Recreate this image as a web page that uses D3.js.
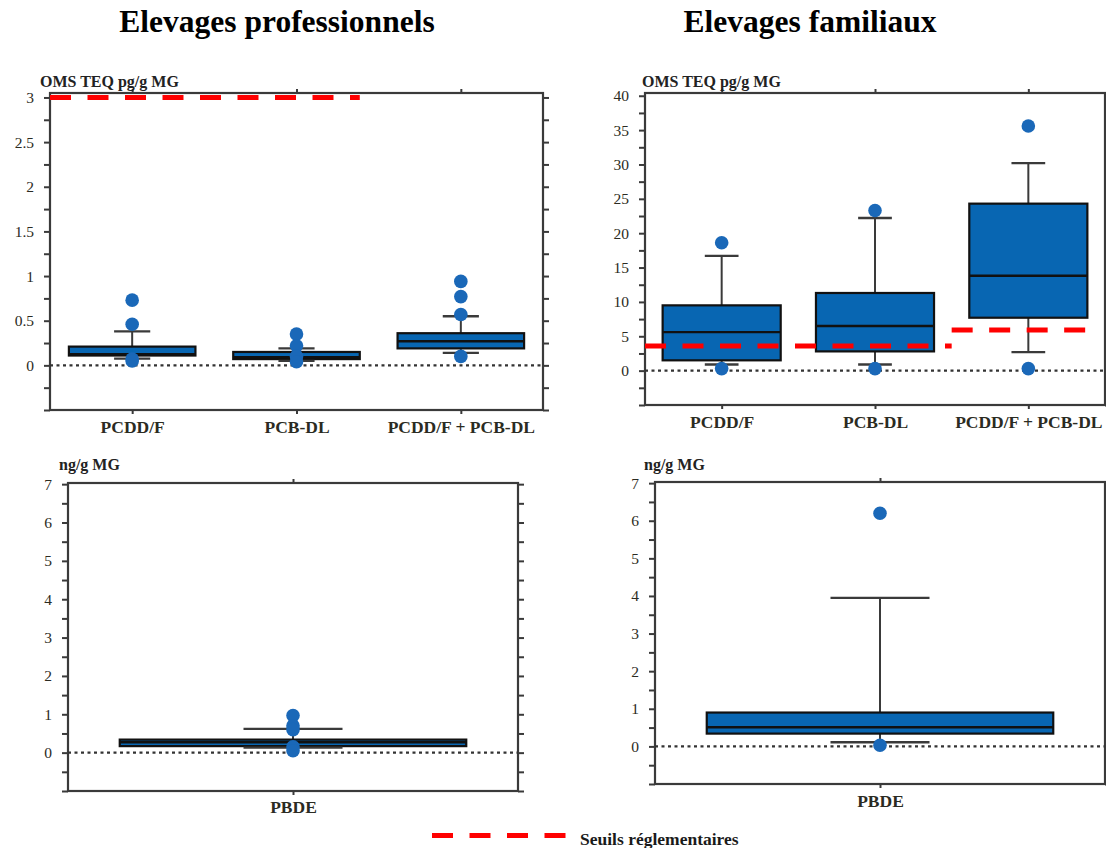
<!DOCTYPE html>
<html>
<head>
<meta charset="utf-8">
<script src="https://cdn.jsdelivr.net/npm/d3@7"></script>
<style>
  body { margin: 0; background: #fff; }
  svg { display: block; }
</style>
</head>
<body>
<svg width="1106" height="848"></svg>
<script>
'use strict';

// categories
var topCategories = ['PCDD/F', 'PCB-DL', 'PCDD/F + PCB-DL'];
var bottomCategories = ['PBDE'];

// Elevages professionnels, OMS TEQ pg/g MG
var proLow = [0.075, 0.05, 0.14];
var proQ1 = [0.11, 0.07, 0.19];
var proMedian = [0.125, 0.09, 0.27];
var proQ3 = [0.21, 0.15, 0.36];
var proHigh = [0.38, 0.19, 0.55];
var proOutliers = [[0.73, 0.46, 0.07, 0.05], [0.35, 0.22, 0.1, 0.04], [0.94, 0.77, 0.57, 0.1]];
var proThresholds = [{ value: 3, from: 0, to: 1 }];

// Elevages familiaux, OMS TEQ pg/g MG
var famLow = [0.9, 0.9, 2.7];
var famQ1 = [1.5, 2.8, 7.7];
var famMedian = [5.6, 6.5, 13.8];
var famQ3 = [9.5, 11.3, 24.3];
var famHigh = [16.7, 22.2, 30.2];
var famOutliers = [[18.6, 0.3], [23.3, 0.3], [35.6, 0.3]];
var famThresholds = [{ value: 3.6, from: 0, to: 1 }, { value: 5.9, from: 2, to: 2 }];

// PBDE, ng/g MG
var pbdeProLow = [0.13], pbdeProQ1 = [0.17], pbdeProMedian = [0.27], pbdeProQ3 = [0.34], pbdeProHigh = [0.62];
var pbdeProOutliers = [[0.97, 0.7, 0.6, 0.15, 0.05]];
var pbdeFamLow = [0.11], pbdeFamQ1 = [0.34], pbdeFamMedian = [0.51], pbdeFamQ3 = [0.9], pbdeFamHigh = [3.95];
var pbdeFamOutliers = [[6.2, 0.03]];

// tick labels
var teqProTicks = [0, 0.5, 1, 1.5, 2, 2.5, 3];
var teqFamTicks = [0, 5, 10, 15, 20, 25, 30, 35, 40];
var pbdeTicks = [0, 1, 2, 3, 4, 5, 6, 7];

var titles = ['Elevages professionnels', 'Elevages familiaux'];
var legendLabel = 'Seuils réglementaires';

var BLUE = '#0866b2';
var DOT = '#1a68b8';
var FRAME = '#3a3a3a';
var RED = '#ff0000';
var SERIF = '"Liberation Serif", "Times New Roman", serif';

var svg = d3.select('svg');

function buildStats(cats, low, q1, med, q3, high, outl) {
    return cats.map(function(c, i) {
        return { cat: c, low: low[i], q1: q1[i], median: med[i], q3: q3[i], high: high[i], outliers: outl[i] };
    });
}

var panels = [
    {
        frame: { x0: 50, x1: 543, y0: 93, y1: 410 },
        yDomain: [-0.5, 3.05], minorStep: 0.25, labels: teqProTicks,
        unit: 'OMS TEQ pg/g MG', unitPos: [40, 87], labelPad: 7,
        categories: topCategories,
        stats: buildStats(topCategories, proLow, proQ1, proMedian, proQ3, proHigh, proOutliers),
        thresholds: proThresholds, thresholdEnds: ['box']
    },
    {
        frame: { x0: 645, x1: 1105, y0: 93, y1: 405 },
        yDomain: [-5, 40.4], minorStep: 2.5, labels: teqFamTicks,
        unit: 'OMS TEQ pg/g MG', unitPos: [642, 87], labelPad: 7,
        categories: topCategories,
        stats: buildStats(topCategories, famLow, famQ1, famMedian, famQ3, famHigh, famOutliers),
        thresholds: famThresholds, thresholdEnds: ['mid', 'box']
    },
    {
        frame: { x0: 68, x1: 518, y0: 483, y1: 791 },
        yDomain: [-1, 7.03], minorStep: 0.5, labels: pbdeTicks,
        unit: 'ng/g MG', unitPos: [59, 470], labelPad: 6,
        categories: bottomCategories,
        stats: buildStats(bottomCategories, pbdeProLow, pbdeProQ1, pbdeProMedian, pbdeProQ3, pbdeProHigh, pbdeProOutliers),
        thresholds: [], thresholdEnds: []
    },
    {
        frame: { x0: 655, x1: 1105, y0: 482, y1: 784 },
        yDomain: [-1, 7.03], minorStep: 0.5, labels: pbdeTicks,
        unit: 'ng/g MG', unitPos: [644, 470], labelPad: 7,
        categories: bottomCategories,
        stats: buildStats(bottomCategories, pbdeFamLow, pbdeFamQ1, pbdeFamMedian, pbdeFamQ3, pbdeFamHigh, pbdeFamOutliers),
        thresholds: [], thresholdEnds: []
    }
];

function styleAxis(sel, fontSize, weight) {
    sel.attr('font-family', null);
    sel.select('.domain').remove();
    sel.selectAll('.tick line').attr('stroke', FRAME).attr('stroke-width', 2);
    sel.selectAll('.tick text')
        .attr('fill', '#2b2b22')
        .style('font-family', SERIF)
        .style('font-size', fontSize + 'px')
        .style('font-weight', weight);
}

function drawPanel(p) {
    var f = p.frame;
    var g = svg.append('g');

    var x = d3.scalePoint().domain(p.categories).range([f.x0, f.x1]).padding(0.5);
    var step = x.step();
    var boxW = step * 0.77;
    var capW = step * 0.22;

    var y = d3.scaleLinear().domain(p.yDomain).range([f.y1, f.y0]);

    //minor ticks every minorStep, labels only on the listed values
    var lo = Math.ceil(p.yDomain[0] / p.minorStep) * p.minorStep;
    var tickVals = d3.range(lo, p.yDomain[1] + 1e-9, p.minorStep).map(function(v) { return Math.round(v * 1000) / 1000; });
    var fmt = function(d) { return p.labels.indexOf(d) >= 0 ? String(d) : ''; };

    g.append('g')
        .attr('transform', 'translate(' + f.x0 + ',0)')
        .call(d3.axisLeft(y).tickValues(tickVals).tickSize(6).tickPadding(10).tickFormat(fmt))
        .call(styleAxis, 15.5, 'normal');

    g.append('g')
        .attr('transform', 'translate(' + f.x1 + ',0)')
        .call(d3.axisRight(y).tickValues(tickVals).tickSize(6).tickFormat(''))
        .call(styleAxis, 15, 'normal');

    g.append('g')
        .attr('transform', 'translate(0,' + f.y0 + ')')
        .call(d3.axisTop(x).tickSize(4).tickFormat(''))
        .call(styleAxis, 17, 'bold');

    g.append('g')
        .attr('transform', 'translate(0,' + f.y1 + ')')
        .call(d3.axisBottom(x).tickSize(4).tickPadding(p.labelPad))
        .call(styleAxis, 17.5, 'bold');

    //frame
    g.append('rect')
        .attr('x', f.x0).attr('y', f.y0)
        .attr('width', f.x1 - f.x0).attr('height', f.y1 - f.y0)
        .attr('fill', 'none')
        .attr('stroke', FRAME)
        .attr('stroke-width', 2.2);

    //zero line
    g.append('line')
        .attr('x1', f.x0).attr('x2', f.x1)
        .attr('y1', y(0)).attr('y2', y(0))
        .attr('stroke', '#333')
        .attr('stroke-width', 2.4)
        .attr('stroke-dasharray', '3,3.5');

    var boxes = g.selectAll('.box').data(p.stats).enter().append('g').attr('class', 'box');

    //whiskers
    boxes.append('line')
        .attr('x1', function(d) { return x(d.cat); })
        .attr('x2', function(d) { return x(d.cat); })
        .attr('y1', function(d) { return y(d.high); })
        .attr('y2', function(d) { return y(d.low); })
        .attr('stroke', FRAME).attr('stroke-width', 2);

    boxes.append('rect')
        .attr('x', function(d) { return x(d.cat) - boxW / 2; })
        .attr('y', function(d) { return y(d.q3); })
        .attr('width', boxW)
        .attr('height', function(d) { return y(d.q1) - y(d.q3); })
        .attr('fill', BLUE)
        .attr('stroke', '#111')
        .attr('stroke-width', 2.2);

    boxes.append('line')
        .attr('x1', function(d) { return x(d.cat) - boxW / 2; })
        .attr('x2', function(d) { return x(d.cat) + boxW / 2; })
        .attr('y1', function(d) { return y(d.median); })
        .attr('y2', function(d) { return y(d.median); })
        .attr('stroke', '#111').attr('stroke-width', 2.4);

    ['high', 'low'].forEach(function(k) {
        boxes.append('line')
            .attr('x1', function(d) { return x(d.cat) - capW / 2; })
            .attr('x2', function(d) { return x(d.cat) + capW / 2; })
            .attr('y1', function(d) { return y(d[k]); })
            .attr('y2', function(d) { return y(d[k]); })
            .attr('stroke', FRAME).attr('stroke-width', 2.4);
    });

    //outliers
    boxes.selectAll('circle')
        .data(function(d) { return d.outliers.map(function(v) { return { cat: d.cat, v: v }; }); })
        .enter()
        .append('circle')
        .attr('cx', function(d) { return x(d.cat); })
        .attr('cy', function(d) { return y(d.v); })
        .attr('r', 6.8)
        .attr('fill', DOT);

    //regulatory thresholds
    p.thresholds.forEach(function(t, k) {
        var xs = k === 0 ? f.x0 : x(p.categories[t.from]) - step / 2;
        var xe = p.thresholdEnds[k] === 'box' ? x(p.categories[t.to]) + boxW / 2 : x(p.categories[t.to]) + step / 2;
        g.append('line')
            .attr('x1', xs).attr('x2', xe)
            .attr('y1', y(t.value)).attr('y2', y(t.value))
            .attr('stroke', RED)
            .attr('stroke-width', 5)
            .attr('stroke-dasharray', '21,16.5');
    });

    //unit label
    g.append('text')
        .attr('x', p.unitPos[0]).attr('y', p.unitPos[1])
        .style('font-family', SERIF)
        .style('font-size', '16px')
        .style('font-weight', 'bold')
        .attr('fill', '#222')
        .text(p.unit);
}

panels.forEach(drawPanel);

//titles
svg.selectAll('.title')
    .data(titles)
    .enter()
    .append('text')
    .attr('class', 'title')
    .attr('x', function(d, i) { return i === 0 ? 277 : 810; })
    .attr('y', 32)
    .attr('text-anchor', 'middle')
    .style('font-family', SERIF)
    .style('font-size', '31.5px')
    .style('font-weight', 'bold')
    .attr('fill', '#000')
    .text(function(d) { return d; });

//legend
svg.append('line')
    .attr('x1', 432).attr('x2', 566)
    .attr('y1', 835.5).attr('y2', 835.5)
    .attr('stroke', RED)
    .attr('stroke-width', 5)
    .attr('stroke-dasharray', '21,16.5');

svg.append('text')
    .attr('x', 580).attr('y', 845)
    .style('font-family', SERIF)
    .style('font-size', '17.5px')
    .style('font-weight', 'bold')
    .attr('fill', '#1a1a1a')
    .text(legendLabel);
</script>
</body>
</html>
